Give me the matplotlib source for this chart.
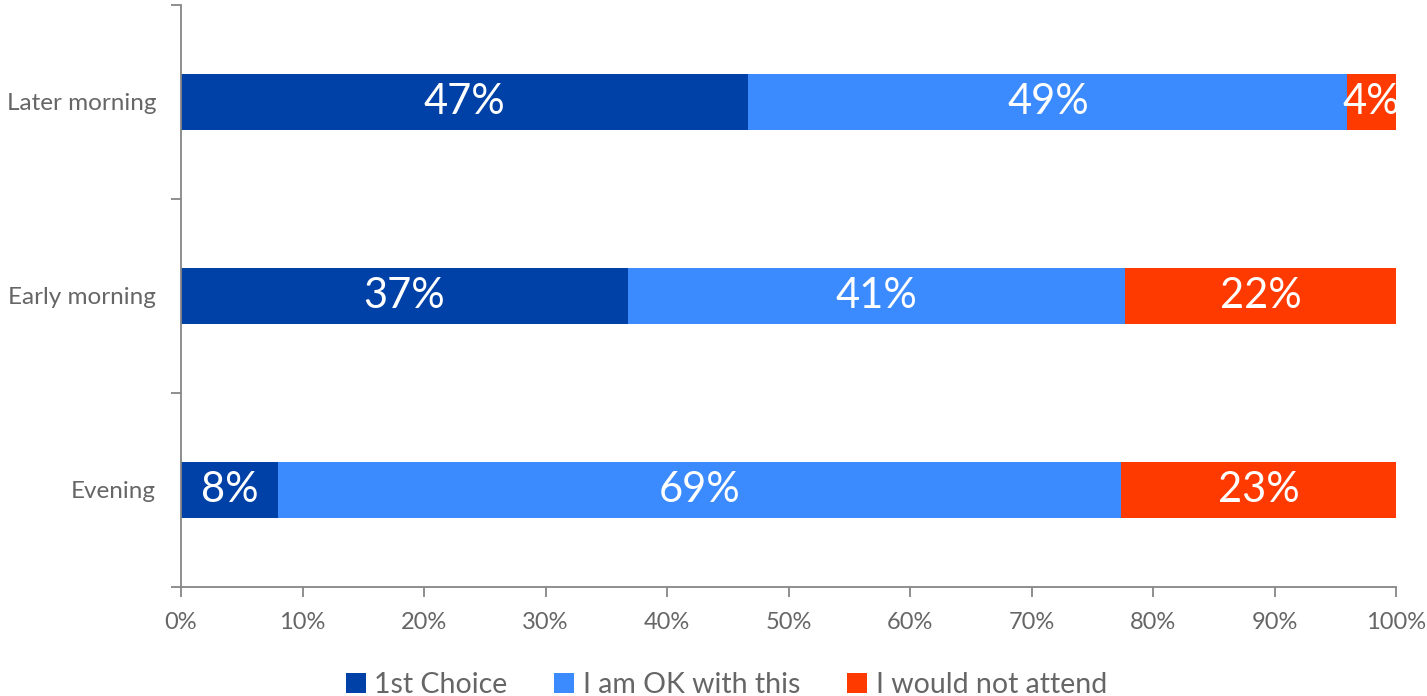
import matplotlib.pyplot as plt
import numpy as np

plt.rcParams['font.family'] = ['Lato', 'DejaVu Sans']

categories = ["Later morning", "Early morning", "Evening"]
first_choice = [46.7, 36.8, 8.0]
ok_with_this = [49.3, 40.9, 69.4]
not_attend = [4.0, 22.3, 22.6]
series_names = ["1st Choice", "I am OK with this", "I would not attend"]
colors = ["#0041A8", "#3B8BFF", "#FF3A00"]
xticks = np.arange(0, 101, 10)

fig = plt.figure(figsize=(14.27, 6.96), dpi=100)
ax = fig.add_axes([181 / 1427, 1 - 587 / 696, 1215 / 1427, 582 / 696])

y = np.arange(len(categories))
left = np.zeros(len(categories))
for vals, name, col in zip([first_choice, ok_with_this, not_attend], series_names, colors):
    vals = np.array(vals)
    bars = ax.barh(y, vals, left=left, height=0.284, color=col, label=name)
    for b, v in zip(bars, vals):
        # labels are clipped at the axes edge, like the original
        ax.text(b.get_x() + b.get_width() / 2, b.get_y() + b.get_height() / 2,
                f"{round(v):.0f}%", color="white", ha="center", va="center",
                fontsize=30, clip_on=True)
    left += vals

ax.set_ylim(2.5, -0.5)
ax.set_xlim(0, 100)
ax.set_yticks(y)
ax.set_yticklabels(categories)
ax.set_yticks([-0.5, 0.5, 1.5, 2.5], minor=True)
ax.tick_params(axis='y', which='major', length=0, pad=18, labelsize=17.5, labelcolor="#666666")
ax.tick_params(axis='y', which='minor', length=7, color="#868686", width=1.3)
ax.set_xticks(xticks)
ax.set_xticklabels([f"{t}%" for t in xticks])
ax.tick_params(axis='x', length=7, color="#868686", width=1.3, labelsize=17,
               labelcolor="#666666", pad=11)
for s in ["top", "right"]:
    ax.spines[s].set_visible(False)
for s in ["left", "bottom"]:
    ax.spines[s].set_color("#868686")
    ax.spines[s].set_linewidth(1.3)

fig.legend(loc="lower center", bbox_to_anchor=(0.509, -0.04), ncol=3, frameon=False,
           fontsize=20.5, labelcolor="#666666", handlelength=0.7, handleheight=0.7,
           handletextpad=0.3, columnspacing=1.65)

fig.savefig("out.png", dpi=100)
